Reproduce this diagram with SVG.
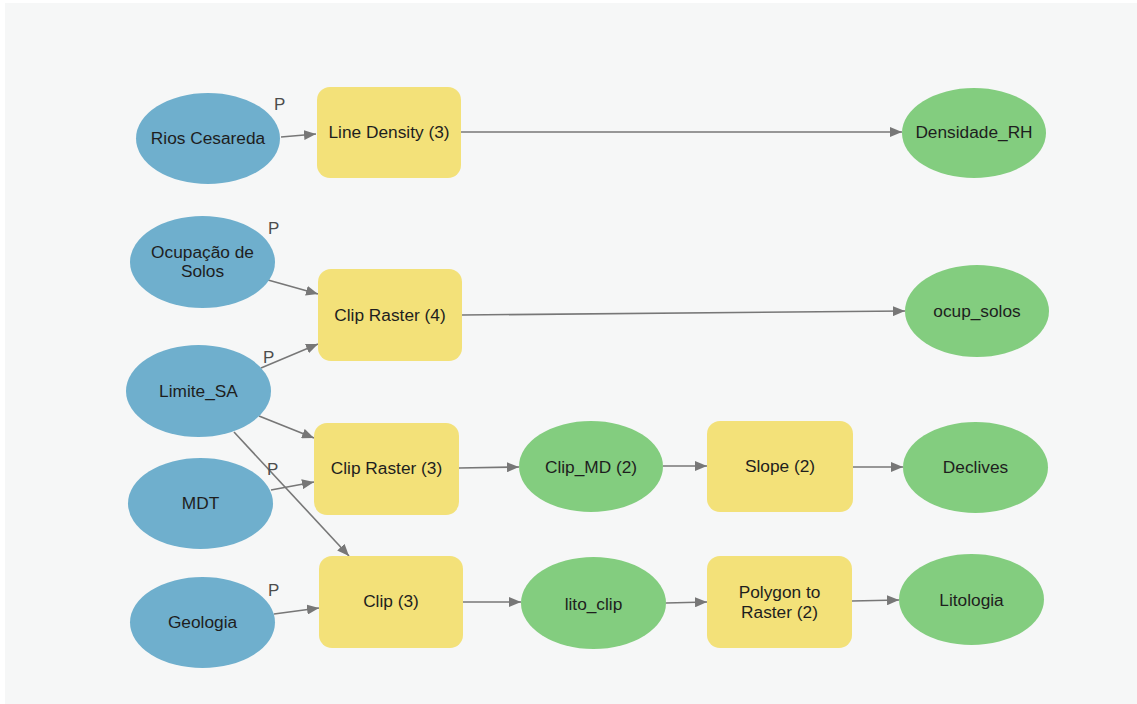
<svg xmlns="http://www.w3.org/2000/svg" width="1137" height="704" viewBox="0 0 1137 704">
<defs>
<style>
.in{fill:#6fafcd}
.tool{fill:#f3e179}
.out{fill:#83cd7f}
text{font-family:"Liberation Sans",Arial,sans-serif;font-size:17.3px;fill:#1e1e1e;text-anchor:middle;dominant-baseline:central}
text.p{font-size:17px;fill:#4d4d4d;text-anchor:start}
.edge{stroke:#777777;stroke-width:1.6;fill:none;marker-end:url(#ah)}
</style>
<marker id="ah" viewBox="0 0 12 10" refX="12" refY="5" markerWidth="12" markerHeight="10" markerUnits="userSpaceOnUse" orient="auto">
<path d="M0,0 L12,5 L0,10 Z" fill="#777777"/>
</marker>
</defs>
<rect x="0" y="0" width="1137" height="704" fill="#ffffff"/>
<rect x="5" y="3" width="1132" height="701" fill="#f6f7f7"/>

<g id="connectors">
<line class="edge" x1="281" y1="137" x2="316" y2="134"/>
<line class="edge" x1="461" y1="132" x2="902" y2="132"/>
<line class="edge" x1="268" y1="280" x2="318" y2="294"/>
<line class="edge" x1="261" y1="368" x2="318" y2="344"/>
<line class="edge" x1="462" y1="315" x2="905" y2="311"/>
<line class="edge" x1="259" y1="416" x2="314" y2="438"/>
<line class="edge" x1="234" y1="432" x2="349" y2="556"/>
<line class="edge" x1="271" y1="490" x2="314" y2="482"/>
<line class="edge" x1="274" y1="614" x2="319" y2="608"/>
<line class="edge" x1="459" y1="468" x2="519" y2="467"/>
<line class="edge" x1="663" y1="466" x2="707" y2="466"/>
<line class="edge" x1="853" y1="467" x2="903" y2="467"/>
<line class="edge" x1="463" y1="602" x2="521" y2="602"/>
<line class="edge" x1="666" y1="603" x2="707" y2="602"/>
<line class="edge" x1="852" y1="601" x2="899" y2="600"/>
</g>

<g id="rios_cesareda"><ellipse class="in" cx="208" cy="138.5" rx="72" ry="45.5"/><text x="208" y="138">Rios Cesareda</text><text class="p" x="274" y="104">P</text></g>
<g id="ocupacao_solos"><ellipse class="in" cx="202.5" cy="262" rx="72.5" ry="46"/><text x="202.5" y="252">Ocupação de</text><text x="202.5" y="271">Solos</text><text class="p" x="268" y="228">P</text></g>
<g id="limite_sa"><ellipse class="in" cx="198.5" cy="391" rx="72.5" ry="46"/><text x="198.5" y="391">Limite_SA</text><text class="p" x="263" y="357">P</text></g>
<g id="mdt"><ellipse class="in" cx="200.5" cy="503.5" rx="72.5" ry="45.5"/><text x="200.5" y="503">MDT</text><text class="p" x="267" y="469">P</text></g>
<g id="geologia"><ellipse class="in" cx="202.5" cy="622.5" rx="72.5" ry="45.5"/><text x="202.5" y="622">Geologia</text><text class="p" x="268" y="590">P</text></g>

<g id="line_density"><rect class="tool" x="317" y="87" width="144" height="91" rx="13"/><text x="389" y="132">Line Density (3)</text></g>
<g id="clip_raster_4"><rect class="tool" x="318" y="269" width="144" height="92" rx="13"/><text x="390" y="315">Clip Raster (4)</text></g>
<g id="clip_raster_3"><rect class="tool" x="314" y="423" width="145" height="92" rx="13"/><text x="386.5" y="468">Clip Raster (3)</text></g>
<g id="clip_3"><rect class="tool" x="319" y="556" width="144" height="92" rx="13"/><text x="391" y="601">Clip (3)</text></g>
<g id="slope_2"><rect class="tool" x="707" y="421" width="146" height="91" rx="13"/><text x="780" y="466">Slope (2)</text></g>
<g id="polygon_to_raster"><rect class="tool" x="707" y="556" width="145" height="92" rx="13"/><text x="779.5" y="592">Polygon to</text><text x="779.5" y="612">Raster (2)</text></g>

<g id="densidade_rh"><ellipse class="out" cx="974" cy="133" rx="72" ry="45"/><text x="974" y="132">Densidade_RH</text></g>
<g id="ocup_solos"><ellipse class="out" cx="977" cy="311" rx="72" ry="46"/><text x="977" y="311">ocup_solos</text></g>
<g id="clip_md_2"><ellipse class="out" cx="591" cy="466.5" rx="72" ry="45.5"/><text x="591" y="467">Clip_MD (2)</text></g>
<g id="declives"><ellipse class="out" cx="975.5" cy="467.5" rx="72.5" ry="45.5"/><text x="975.5" y="467">Declives</text></g>
<g id="lito_clip"><ellipse class="out" cx="593.5" cy="603" rx="72.5" ry="46"/><text x="593.5" y="604">lito_clip</text></g>
<g id="litologia"><ellipse class="out" cx="971.5" cy="599.5" rx="72.5" ry="45.5"/><text x="971.5" y="600">Litologia</text></g>
</svg>
